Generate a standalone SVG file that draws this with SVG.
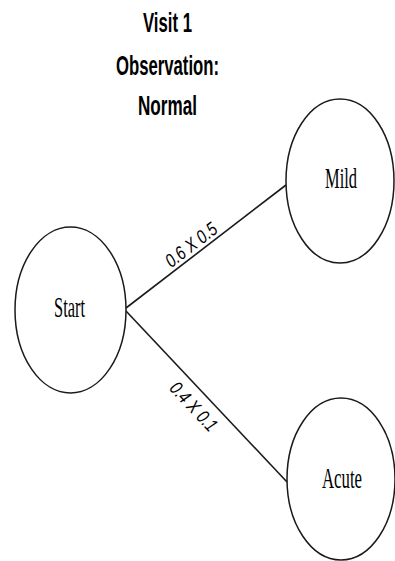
<svg xmlns="http://www.w3.org/2000/svg" width="395" height="561" viewBox="0 0 395 561">
  <style>
    .title { font-family: "Liberation Sans", Arial, sans-serif; font-weight: bold; font-size: 28px; fill: #000; text-anchor: middle; }
    .state { fill: #fff; stroke: #1a1a1a; stroke-width: 1.5; }
    .state-label { font-family: "Liberation Serif", "Times New Roman", serif; font-size: 30px; fill: #000; text-anchor: middle; }
    .edge { stroke: #1a1a1a; stroke-width: 1.6; fill: none; }
    .edge-label { font-family: "Liberation Sans", Arial, sans-serif; font-style: italic; font-size: 19px; fill: #000; text-anchor: middle; }
  </style>
  <rect width="395" height="561" fill="#fff"/>

  <!-- heading -->
  <g id="title">
    <text class="title" x="167.5" y="32" textLength="49" lengthAdjust="spacingAndGlyphs">Visit 1</text>
    <text class="title" x="167.5" y="75" textLength="103" lengthAdjust="spacingAndGlyphs">Observation:</text>
    <text class="title" x="167.5" y="115" textLength="59" lengthAdjust="spacingAndGlyphs">Normal</text>
  </g>

  <!-- transitions -->
  <g id="connectors">
    <line class="edge" x1="126" y1="308" x2="286" y2="185"/>
    <line class="edge" x1="126" y1="311" x2="287" y2="482"/>
    <text class="edge-label" transform="translate(195,250) rotate(-37.5)" textLength="60" lengthAdjust="spacingAndGlyphs">0.6 X 0.5</text>
    <text class="edge-label" transform="translate(189,411) rotate(47)" textLength="60" lengthAdjust="spacingAndGlyphs">0.4 X 0.1</text>
  </g>

  <g id="start">
    <ellipse class="state" cx="70.5" cy="310" rx="55.5" ry="83"/>
    <text class="state-label" x="69.5" y="316.5" textLength="31" lengthAdjust="spacingAndGlyphs">Start</text>
  </g>

  <g id="mild">
    <ellipse class="state" cx="340" cy="181" rx="54" ry="82"/>
    <text class="state-label" x="341" y="188" textLength="32" lengthAdjust="spacingAndGlyphs">Mild</text>
  </g>

  <g id="acute">
    <ellipse class="state" cx="341" cy="479" rx="54" ry="81"/>
    <text class="state-label" x="342" y="488" textLength="40" lengthAdjust="spacingAndGlyphs">Acute</text>
  </g>
</svg>
